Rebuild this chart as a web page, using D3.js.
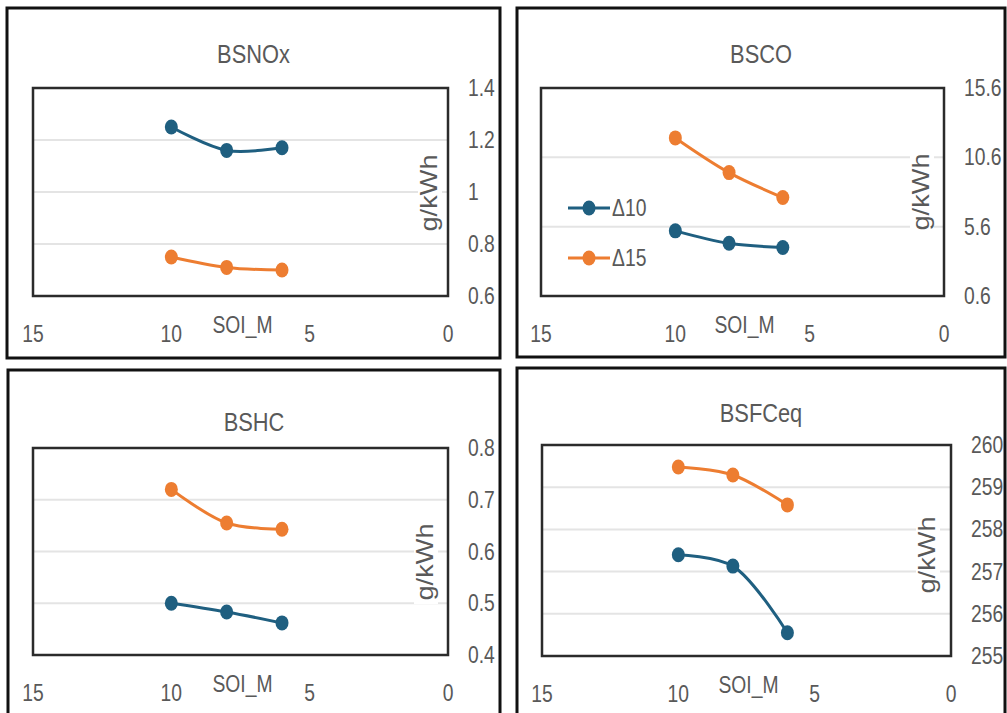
<!DOCTYPE html>
<html>
<head>
<meta charset="utf-8">
<script src="https://cdn.jsdelivr.net/npm/d3@7"></script>
<style>
  body { margin: 0; background: #fff; }
  text { font-family: "Liberation Sans", Arial, sans-serif; fill: #595959; }
</style>
</head>
<body>
<svg id="chart"></svg>
<script>
// data
const soi = [10, 8, 6];
const seriesNames = ["Δ10", "Δ15"];
const xTicks = [15, 10, 5, 0];

const bsnoxD10 = [1.25, 1.16, 1.17];
const bsnoxD15 = [0.75, 0.71, 0.70];
const bsnoxTicks = [0.6, 0.8, 1, 1.2, 1.4];

const bscoD10 = [5.3, 4.4, 4.1];
const bscoD15 = [12.0, 9.5, 7.7];
const bscoTicks = [0.6, 5.6, 10.6, 15.6];

const bshcD10 = [0.50, 0.483, 0.462];
const bshcD15 = [0.72, 0.655, 0.643];
const bshcTicks = [0.4, 0.5, 0.6, 0.7, 0.8];

const bsfcD10 = [257.4, 257.13, 255.55];
const bsfcD15 = [259.48, 259.29, 258.58];
const bsfcTicks = [255, 256, 257, 258, 259, 260];

const colors = ["#1f5f80", "#ed7d31"];

const WIDTH = 1007;
const HEIGHT = 713;
// the source picture is squeezed sideways, so horizontal text is narrowed
const SQUEEZE = 0.84;

// layout of the four panels (frame, plot area, title, unit label)
const panels = [
      { title: "BSNOx", s: [bsnoxD10, bsnoxD15], ticks: bsnoxTicks,
        frame: [7, 8, 500, 358], plot: [33, 88, 448, 296], titleY: 63, unit: [430, 193], legend: false },
      { title: "BSCO", s: [bscoD10, bscoD15], ticks: bscoTicks,
        frame: [517, 8, 1005, 357], plot: [541, 88, 944, 296], titleY: 63, unit: [922, 192], legend: true },
      { title: "BSHC", s: [bshcD10, bshcD15], ticks: bshcTicks,
        frame: [8, 370, 500, 730], plot: [33, 448, 448, 655], titleY: 431, unit: [426, 562], legend: false },
      { title: "BSFCeq", s: [bsfcD10, bsfcD15], ticks: bsfcTicks,
        frame: [517, 368, 1005, 730], plot: [542, 445, 951, 656], titleY: 422, unit: [928, 555], legend: false }
];

const svg = d3.select("#chart")
      .attr("width", WIDTH)
      .attr("height", HEIGHT);

svg.append("rect")
      .attr("width", WIDTH)
      .attr("height", HEIGHT)
      .attr("fill", "#fff");

function narrowText(sel, x, y, size, anchor) {
      return sel
            .attr("transform", typeof x === "function"
                  ? (d, i) => `translate(${x(d, i)},${y(d, i)}) scale(${SQUEEZE},1)`
                  : `translate(${x},${y}) scale(${SQUEEZE},1)`)
            .attr("text-anchor", anchor)
            .style("font-size", size + "px");
}

for (const p of panels) {
      const [fx0, fy0, fx1, fy1] = p.frame;
      const [px0, py0, px1, py1] = p.plot;
      const g = svg.append("g");

      const xScale = d3.scaleLinear()
            .domain([15, 0])
            .range([px0, px1]);
      const yScale = d3.scaleLinear()
            .domain(d3.extent(p.ticks))
            .range([py1, py0]);

      // gridlines
      g.selectAll(".grid")
            .data(p.ticks.slice(1, -1))
            .enter()
            .append("line")
            .attr("x1", px0)
            .attr("x2", px1)
            .attr("y1", d => yScale(d))
            .attr("y2", d => yScale(d))
            .style("stroke", "#e4e4e4")
            .style("stroke-width", 2);

      // unit label with white backing
      g.append("rect")
            .attr("x", p.unit[0] - 12)
            .attr("y", p.unit[1] - 42)
            .attr("width", 24)
            .attr("height", 84)
            .attr("fill", "#fff");
      g.append("text")
            .attr("transform", `translate(${p.unit[0] + 7},${p.unit[1]}) rotate(-90)`)
            .attr("text-anchor", "middle")
            .attr("textLength", 77)
            .attr("lengthAdjust", "spacingAndGlyphs")
            .style("font-size", "24px")
            .text("g/kWh");

      // plot area border
      g.append("rect")
            .attr("x", px0)
            .attr("y", py0)
            .attr("width", px1 - px0)
            .attr("height", py1 - py0)
            .attr("fill", "none")
            .style("stroke", "#2b2b2b")
            .style("stroke-width", 2.5);

      // right axis labels
      g.selectAll(".ytick")
            .data(p.ticks)
            .enter()
            .append("text")
            .call(narrowText, () => px1 + 20, d => yScale(d) + 8, 23, "start")
            .text(d => d);

      // bottom axis labels
      g.selectAll(".xtick")
            .data(xTicks)
            .enter()
            .append("text")
            .call(narrowText, d => xScale(d), () => py1 + 46, 23, "middle")
            .text(d => d);

      g.append("text")
            .call(narrowText, (px0 + px1) / 2 + 2, py1 + 37, 23, "middle")
            .text("SOI_M");

      g.append("text")
            .call(narrowText, (fx0 + fx1) / 2, p.titleY, 26, "middle")
            .text(p.title);

      const line = d3.line()
            .x(d => xScale(d[0]))
            .y(d => yScale(d[1]))
            .curve(d3.curveCatmullRom.alpha(0.5));

      p.s.forEach((vals, i) => {
            const pts = soi.map((x, j) => [x, vals[j]]);
            g.append("path")
                  .attr("d", line(pts))
                  .attr("fill", "none")
                  .style("stroke", colors[i])
                  .style("stroke-width", 3);
            g.selectAll(".pt" + i)
                  .data(pts)
                  .enter()
                  .append("ellipse")
                  .attr("cx", d => xScale(d[0]))
                  .attr("cy", d => yScale(d[1]))
                  .attr("rx", 6.5)
                  .attr("ry", 7.5)
                  .attr("fill", colors[i]);
      });

      if (p.legend) {
            const lg = g.selectAll(".legend")
                  .data(seriesNames)
                  .enter()
                  .append("g")
                  .attr("transform", (d, i) => `translate(${px0 + 27},${208 + i * 50})`);
            lg.append("line")
                  .attr("x1", 0)
                  .attr("x2", 42)
                  .style("stroke", (d, i) => colors[i])
                  .style("stroke-width", 3);
            lg.append("ellipse")
                  .attr("cx", 21)
                  .attr("rx", 6.5)
                  .attr("ry", 7.5)
                  .attr("fill", (d, i) => colors[i]);
            lg.append("text")
                  .call(narrowText, 44, 8, 23, "start")
                  .text(d => d);
      }

      // outer frame
      svg.append("rect")
            .attr("x", fx0)
            .attr("y", fy0)
            .attr("width", fx1 - fx0)
            .attr("height", fy1 - fy0)
            .attr("fill", "none")
            .style("stroke", "#111")
            .style("stroke-width", 3);
}
</script>
</body>
</html>
